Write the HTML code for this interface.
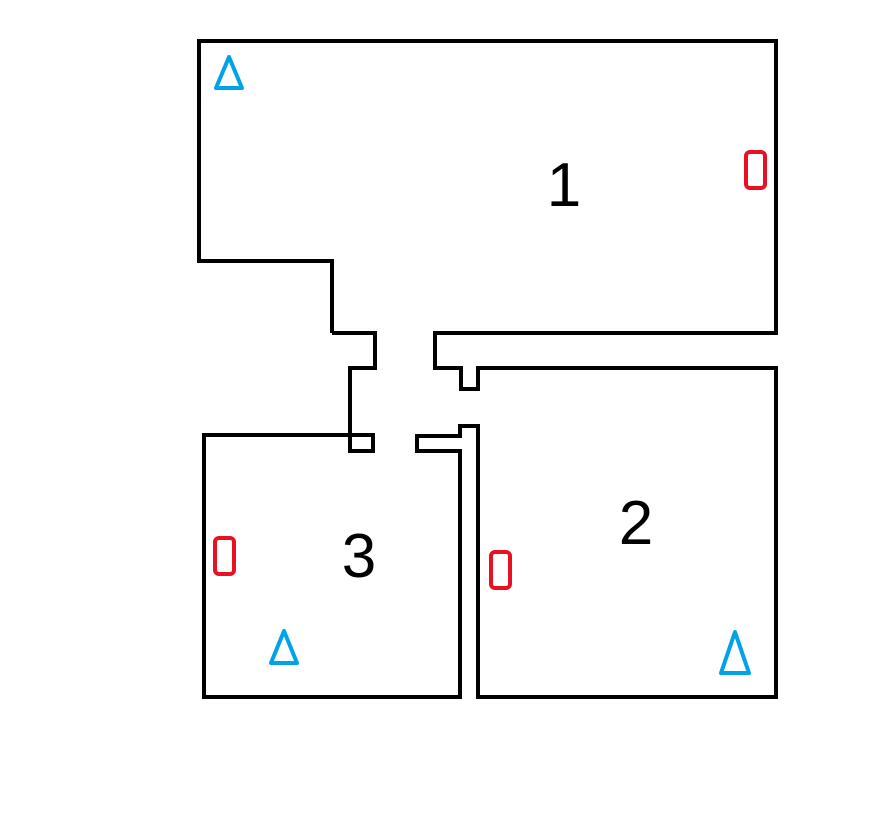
<!DOCTYPE html>
<html><head><style>body{margin:0;background:#fff}svg{display:block}</style></head><body>
<svg width="877" height="827" viewBox="0 0 877 827" xmlns="http://www.w3.org/2000/svg">
<rect width="877" height="827" fill="#fff"/>
<g fill="none" stroke="#000" stroke-width="4" stroke-linejoin="miter">
<polyline points="332,333 332,261 199,261 199,41 776,41 776,333 435,333 435,368 461,368 461,389 478,389 478,368 776,368 776,697 478,697 478,426 460,426 460,436 417,436 417,451 460,451 460,697 204,697 204,435 350,435"/>
<polyline points="332,333 375,333 375,368 350,368 350,451 373,451 373,435 350,435"/>
</g>
<g fill="none" stroke="#e81123" stroke-width="4">
<rect x="215" y="538" width="19" height="36" rx="4"/>
<rect x="746" y="152" width="19" height="36" rx="4"/>
<rect x="491" y="552" width="19" height="36" rx="4"/>
</g>
<g fill="none" stroke="#00a2e8" stroke-width="4" stroke-linejoin="round">
<polygon points="229,57 216,88 242,88"/>
<polygon points="284,631 271,663 297,663"/>
<polygon points="735,632 721,673 749,673"/>
</g>
<g font-family="Liberation Sans, sans-serif" font-size="62" fill="#000" text-anchor="middle">
<text x="564" y="206">1</text>
<text x="636" y="544">2</text>
<text x="359" y="577">3</text>
</g>
</svg>
</body></html>
